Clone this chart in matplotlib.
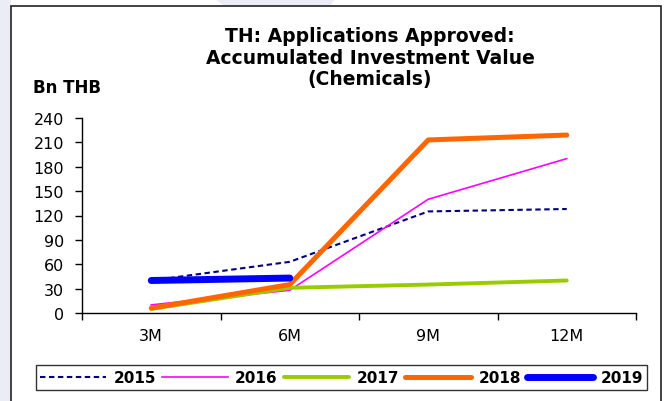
import matplotlib
matplotlib.use("Agg")
import matplotlib.pyplot as plt
from matplotlib.patches import Rectangle, Polygon

plt.rcParams['font.family'] = ['DejaVu Sans']

# Data
periods = ["3M", "6M", "9M", "12M"]
y2015 = [40, 63, 125, 128]
y2016 = [10, 28, 140, 190]
y2017 = [5, 31, 35, 40]
y2018 = [6, 35, 213, 219]
y2019 = [40, 43]
yticks = [0, 30, 60, 90, 120, 150, 180, 210, 240]

W, H = 667, 402
fig = plt.figure(figsize=(W / 100, H / 100), dpi=100)
fig.patch.set_facecolor("white")

def fx(px):
    return px / W

def fy(py):
    return (H - py) / H

# faint background decoration behind the chart frame
fig.patches.append(Rectangle((0, 0), fx(11), 1, transform=fig.transFigure,
                             facecolor="#ececf6", edgecolor="none", zorder=0))
fig.patches.append(Polygon([(fx(215), 1), (fx(335), 1), (fx(330), fy(7)), (fx(225), fy(7))],
                           closed=True, transform=fig.transFigure,
                           facecolor="#ececf6", edgecolor="none", zorder=0))

# chart frame
fig.patches.append(Rectangle((fx(11), -0.05), fx(661) - fx(11), fy(7) + 0.05,
                             transform=fig.transFigure, facecolor="white",
                             edgecolor="#222222", linewidth=1.2, zorder=1))

ax = fig.add_axes([fx(82), fy(314), fx(636) - fx(82), fy(119) - fy(314)])
ax.set_facecolor("none")
ax.set_zorder(2)

x = list(range(len(periods)))
l15, = ax.plot(x, y2015, color="#000080", lw=1.5, dashes=(2.6, 1.7), label="2015")
l16, = ax.plot(x, y2016, color="#ff00ff", lw=1.2, label="2016")
l17, = ax.plot(x, y2017, color="#99cc00", lw=2.8, solid_capstyle="round", label="2017")
l18, = ax.plot(x, y2018, color="#ff6600", lw=3.6, solid_capstyle="round", label="2018")
l19, = ax.plot(x[:len(y2019)], y2019, color="#0000ff", lw=5, solid_capstyle="round", label="2019")

ax.set_xlim(-0.5, len(periods) - 0.5)
ax.set_ylim(0, 240)
ax.set_yticks(yticks)
ax.set_yticklabels([str(v) for v in yticks])
ax.set_xticks(x)
ax.set_xticklabels(periods)
ax.set_xticks([i - 0.5 for i in range(len(periods) + 1)], minor=True)
ax.tick_params(axis="x", which="major", length=0, pad=11, labelsize=11.5)
ax.tick_params(axis="x", which="minor", length=5, width=1, direction="out")
ax.tick_params(axis="y", length=5, width=1, direction="out", pad=8, labelsize=11.5)
for s in ["top", "right"]:
    ax.spines[s].set_visible(False)
for s in ["left", "bottom"]:
    ax.spines[s].set_linewidth(1)
    ax.spines[s].set_color("black")

# titles
fig.text(fx(370), fy(37), "TH: Applications Approved:", ha="center", va="center",
         fontsize=13.5, fontweight="bold")
fig.text(fx(370), fy(58), "Accumulated Investment Value", ha="center", va="center",
         fontsize=13.5, fontweight="bold")
fig.text(fx(370), fy(80), "(Chemicals)", ha="center", va="center",
         fontsize=13.5, fontweight="bold")
fig.text(fx(33), fy(88), "Bn THB", ha="left", va="center", fontsize=12, fontweight="bold")

leg = fig.legend(handles=[l15, l16, l17, l18, l19], ncol=5, mode="expand",
                 bbox_to_anchor=(fx(28), fy(391), fx(655) - fx(28), fy(366) - fy(391)),
                 loc="center", frameon=True, fancybox=False, handlelength=4.3,
                 handletextpad=0.5, borderpad=0.3, prop={"weight": "bold", "size": 11})
leg.get_frame().set_edgecolor("black")
leg.get_frame().set_linewidth(1)
leg.set_zorder(3)

fig.savefig("out.png", dpi=100)
